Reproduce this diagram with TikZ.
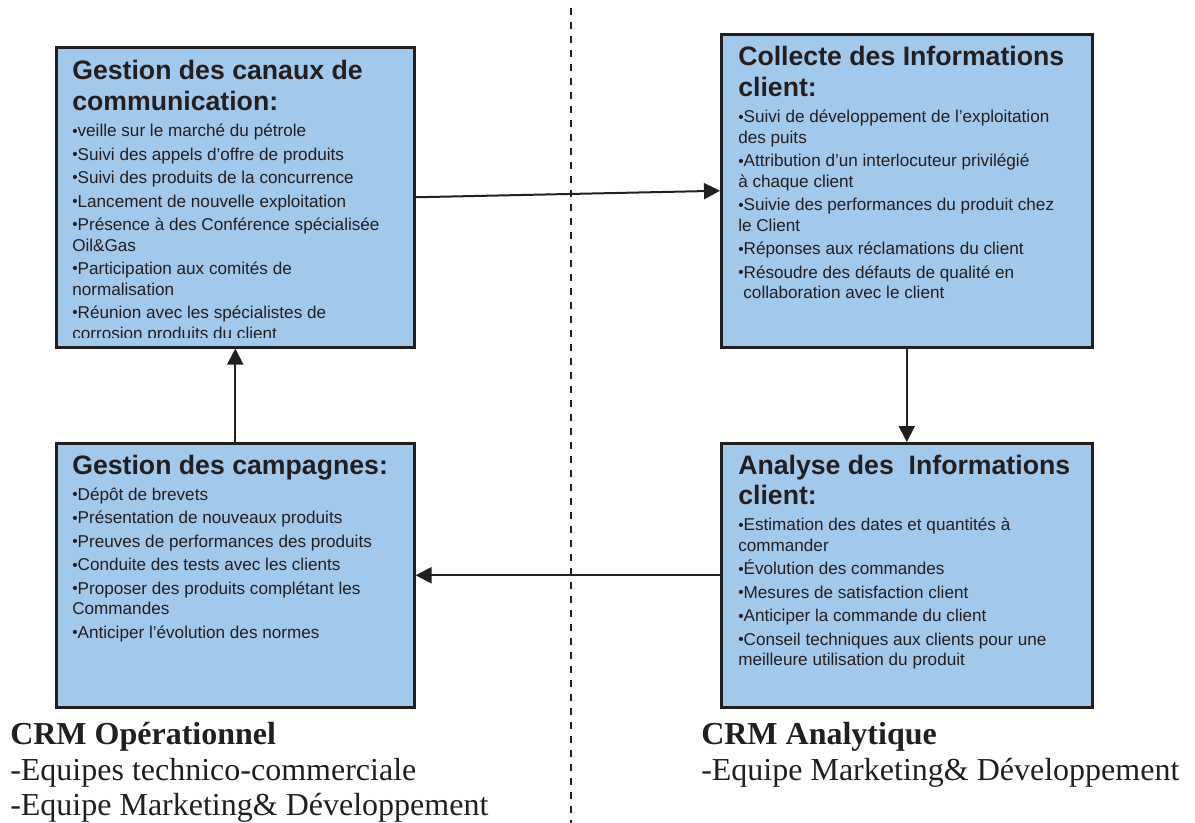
\documentclass[tikz,border=0pt]{standalone}
\usepackage{fontspec}
\setmainfont{Liberation Serif}
\newfontfamily\boxfont{Liberation Sans}
\usetikzlibrary{arrows.meta}
\definecolor{ink}{HTML}{231F20}
\definecolor{boxfill}{HTML}{A2C8EB}
\newcommand\bul{{\fontsize{11.5}{11.5}\selectfont\raisebox{0.6pt}{•}}}
\newcommand\ttlfont{\fontsize{20}{22.8}\selectfont\bfseries}
\newcommand\bdyfont{\fontsize{12.85}{15.4}\selectfont}
\newcommand\boxtext[1]{\begin{minipage}[t]{340pt}\raggedright\boxfont\parindent=0pt\parskip=2.2pt #1\end{minipage}}
\tikzset{
  box/.style={draw=ink, line width=1.9pt, fill=boxfill, anchor=north west, inner sep=0pt},
  boxbody/.style={anchor=base west, inner sep=0pt, text=ink},
  arr/.style={draw=ink, line width=1.5pt, -{Triangle[length=12pt,width=12pt]}},
  divider/.style={draw=ink, line width=1.5pt, dash pattern=on 5.25pt off 5.25pt},
  crmtitle/.style={anchor=base west, inner sep=0pt, text=ink, font=\fontsize{24}{28}\selectfont\bfseries},
  crmline/.style={anchor=base west, inner sep=0pt, text=ink, font=\fontsize{24}{28}\selectfont},
}
\begin{document}
\begin{tikzpicture}[x=0.75pt, y=-0.75pt]
\useasboundingbox (0,0) rectangle (1195,823);
% divider
\coordinate (dtop) at (571,8);
\coordinate (dbot) at (571,823);
\draw[divider] (dtop) -- (dbot);
% boxes
\node[box, minimum width=268.5pt, minimum height=225pt] (tl) at (55,46) {};
\node[box, minimum width=278.25pt, minimum height=234.75pt] (tr) at (720,33) {};
\node[box, minimum width=268.5pt, minimum height=198pt] (bl) at (55,442) {};
\node[box, minimum width=278.25pt, minimum height=198pt] (br) at (720,442) {};
% texts
\begin{scope}
\clip (55,46) rectangle (413,337.5);
\node[boxbody] (tltext) at (72,80) {\boxtext{%
{\ttlfont Gestion des canaux de\\communication:\par}\vspace{2.25pt}\bdyfont
\bul veille sur le marché du pétrole\par
\bul Suivi des appels d’offre de produits\par
\bul Suivi des produits de la concurrence\par
\bul Lancement de nouvelle exploitation\par
\bul Présence à des Conférence spécialisée\\Oil\&Gas\par
\bul Participation aux comités de\\normalisation\par
\bul Réunion avec les spécialistes de\\corrosion produits du client\par}};
\end{scope}
\node[boxbody] (trtext) at (738,66) {\boxtext{%
{\ttlfont Collecte des Informations\\client:\par}\vspace{2.25pt}\bdyfont
\bul Suivi de développement de l’exploitation\\des puits\par
\bul Attribution d’un interlocuteur privilégié\\à chaque client\par
\bul Suivie des performances du produit chez\\le Client\par
\bul Réponses aux réclamations du client\par
\bul Résoudre des défauts de qualité en\\\hspace*{0.3em}collaboration avec le client\par}};
\node[boxbody] (bltext) at (72,474) {\boxtext{%
{\ttlfont Gestion des campagnes:\par}\vspace{2.25pt}\bdyfont
\bul Dépôt de brevets\par
\bul Présentation de nouveaux produits\par
\bul Preuves de performances des produits\par
\bul Conduite des tests avec les clients\par
\bul Proposer des produits complétant les\\Commandes\par
\bul Anticiper l’évolution des normes\par}};
\node[boxbody] (brtext) at (738,474) {\boxtext{%
{\ttlfont Analyse des\ \ Informations\\client:\par}\vspace{2.25pt}\bdyfont
\bul Estimation des dates et quantités à\\commander\par
\bul Évolution des commandes\par
\bul Mesures de satisfaction client\par
\bul Anticiper la commande du client\par
\bul Conseil techniques aux clients pour une\\meilleure utilisation du produit\par}};
% connectors
\draw[arr] (tl.east) -- (tr.west);
\draw[arr] (tr.south) -- (br.north);
\draw[arr] (br.west) -- (bl.east);
\draw[arr] (bl.north) -- (tl.south);
% bottom labels
\node[crmtitle] (opt) at (10,744) {CRM Opérationnel};
\node[crmline] (op1) at (10,780) {-Equipes technico-commerciale};
\node[crmline] (op2) at (10,815) {-Equipe Marketing\& Développement};
\node[crmtitle] (ant) at (701,744) {CRM Analytique};
\node[crmline] (an1) at (701,780) {-Equipe Marketing\& Développement};
\end{tikzpicture}
\end{document}
